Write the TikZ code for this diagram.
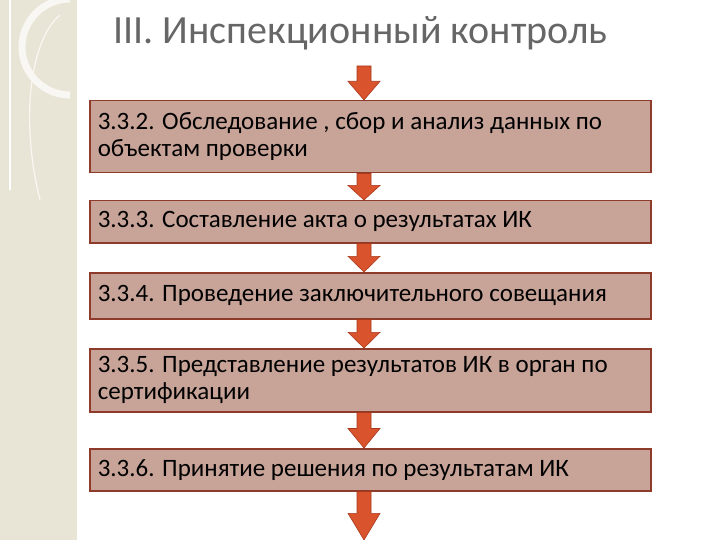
\documentclass[tikz,border=0pt]{standalone}
\usepackage{fontspec}
\setmainfont{Carlito}
\usetikzlibrary{calc}
\definecolor{boxfill}{HTML}{C8A398}
\definecolor{boxline}{HTML}{8E3B2C}
\definecolor{arrfill}{HTML}{D9542C}
\definecolor{arrline}{HTML}{A8381C}
\definecolor{strip}{HTML}{E9E5D6}
\begin{document}
\begin{tikzpicture}[x=1pt,y=-1pt,
  stepbox/.style={draw=boxline,line width=1.5pt,fill=boxfill,anchor=north west,minimum width=561pt,text width=545pt,align=flush left,inner xsep=8pt,inner ysep=3pt,font=\fontsize{25}{27}\selectfont},
  downarrow/.style={fill=arrfill,draw=arrline,line width=0.6pt}]
\useasboundingbox (0,0) rectangle (720,540);
\fill[strip] (0,0) rectangle (78,540);
\draw[white,line width=1.5pt] (10,0) -- (10,190) (78,0) -- (78,540);
\draw[white!70!strip,line width=7pt] (70,95) arc (90:270:48);
\draw[white!70!strip,line width=1.2pt] (60,15) .. controls (30,40) and (20,120) .. (40,200);
\node[anchor=west,text=black!60,font=\fontsize{40}{44}\selectfont] (title) at (110,33) {III. Инспекционный контроль};
\node[stepbox,minimum height=72pt] (b1) at (89,100) {3.3.2. Обследование , сбор и анализ данных по объектам проверки};
\node[stepbox,minimum height=42pt] (b2) at (89,200) {3.3.3. Составление акта о результатах ИК};
\node[stepbox,minimum height=46pt] (b3) at (89,272) {3.3.4. Проведение заключительного совещания};
\node[stepbox,minimum height=63pt] (b4) at (89,348) {3.3.5. Представление результатов ИК в орган по сертификации};
\node[stepbox,minimum height=42pt] (b5) at (89,448) {3.3.6. Принятие решения по результатам ИК};
\coordinate (a0) at (364,66);
\coordinate (aend) at (364,540);
\newcommand{\myarrow}[2]{%
 \path (#1) coordinate (s) (#2) coordinate (e);
 \draw[downarrow] let \p1=(s), \p2=(e) in
  (\x1-7,\y1) -- (\x1+7,\y1) -- (\x1+7,\y2+0.55*\y1-0.55*\y2) -- (\x1+16,\y2+0.55*\y1-0.55*\y2) -- (\x1,\y2)
  -- (\x1-16,\y2+0.55*\y1-0.55*\y2) -- (\x1-7,\y2+0.55*\y1-0.55*\y2) -- cycle;}
\myarrow{a0}{b1.north -| a0}
\myarrow{b1.south -| a0}{b2.north -| a0}
\myarrow{b2.south -| a0}{b3.north -| a0}
\myarrow{b3.south -| a0}{b4.north -| a0}
\myarrow{b4.south -| a0}{b5.north -| a0}
\myarrow{b5.south -| a0}{aend}
\end{tikzpicture}
\end{document}
